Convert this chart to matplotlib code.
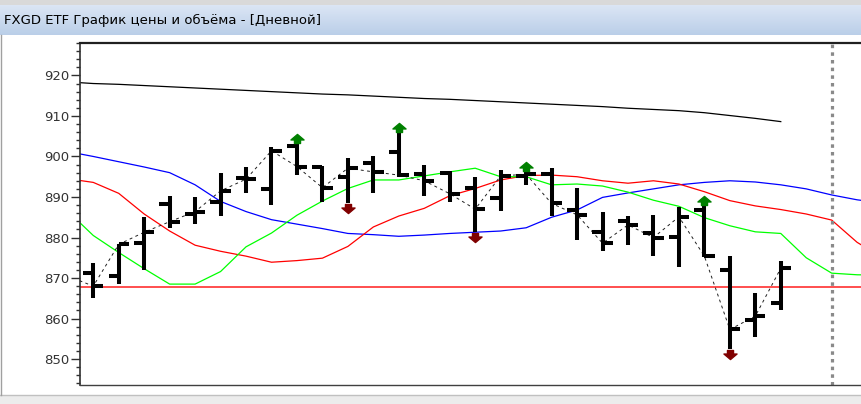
import numpy as np
import matplotlib
matplotlib.use('Agg')
import matplotlib.pyplot as plt
from matplotlib.path import Path
from matplotlib.ticker import MultipleLocator

# OHLC bars (daily)
opens = [871.2, 870.6, 878.6, 888.3, 885.7, 888.8, 894.6, 891.9, 902.5, 897.5,
         895.0, 898.3, 901.2, 895.7, 896.0, 892.1, 889.7, 895.3, 895.7, 886.8,
         881.4, 884.1, 881.2, 880.2, 886.8, 872.1, 859.6, 863.8]
highs = [873.7, 878.4, 885.0, 890.2, 890.1, 895.8, 897.3, 902.3, 903.0, 897.6,
         899.6, 900.0, 905.9, 897.8, 896.4, 895.0, 896.7, 896.2, 897.1, 892.1,
         886.4, 885.2, 885.6, 887.5, 887.8, 875.4, 866.2, 874.3]
lows = [865.1, 868.6, 872.0, 882.3, 883.3, 885.3, 891.1, 888.0, 895.4, 888.8,
        888.4, 890.9, 895.0, 890.2, 888.8, 881.4, 886.5, 893.0, 885.2, 879.4,
        876.7, 878.1, 875.4, 872.6, 875.1, 852.6, 855.5, 862.1]
closes = [868.0, 878.3, 881.3, 883.9, 886.4, 891.5, 894.4, 901.4, 897.5, 892.3,
          897.1, 896.2, 895.4, 894.0, 890.8, 887.0, 895.2, 895.6, 888.4, 885.6,
          878.6, 883.1, 880.0, 885.1, 875.4, 857.3, 860.6, 872.4]
prev_close = 870.5

# indicator lines, one value per day starting the day before the first bar
black_line = [918.4, 918.0, 917.8, 917.5, 917.2, 916.9, 916.6, 916.3, 916.0, 915.7,
              915.4, 915.2, 914.9, 914.6, 914.3, 914.1, 913.8, 913.5, 913.2, 912.9,
              912.6, 912.3, 911.9, 911.6, 911.3, 910.8, 910.1, 909.4, 908.6]
blue_line = [901.2, 900.0, 898.7, 897.4, 896.0, 893.0, 888.9, 886.4, 884.4, 883.3,
             882.2, 881.0, 880.7, 880.3, 880.6, 881.0, 881.3, 881.6, 882.4, 885.0,
             886.8, 889.9, 891.0, 892.0, 893.0, 893.6, 894.0, 893.7, 893.0, 892.0,
             890.5, 889.3, 888.5]
red_line = [894.5, 893.6, 890.9, 885.8, 881.6, 878.1, 876.6, 875.4, 873.9, 874.3,
            874.9, 877.8, 882.6, 885.3, 887.2, 890.3, 892.1, 894.2, 895.3, 895.4,
            895.0, 894.0, 893.4, 894.0, 893.2, 891.3, 889.1, 887.8, 886.9, 885.8,
            884.3, 878.8, 875.0]
green_line = [886.5, 880.5, 876.3, 872.3, 868.5, 868.5, 871.6, 877.7, 881.1, 885.5,
              889.0, 892.1, 894.2, 894.2, 895.2, 896.2, 897.1, 895.0, 895.0, 893.0,
              893.2, 892.7, 891.2, 889.2, 887.7, 884.9, 882.9, 881.4, 881.0, 875.0,
              871.2, 870.8, 870.7]
support_level = 867.9
today_index = 29

# signals (bar indices)
up_signals = [8, 12, 17, 24]
down_signals = [10, 15, 25]

title = 'FXGD ETF График цены и объёма - [Дневной]'

W, H = 862, 404
fig = plt.figure(figsize=(W / 100, H / 100), dpi=100)
fig.patch.set_facecolor('white')

# window title bar
bar = fig.add_axes([0, 1 - 35 / H, 1, 30 / H])
grad = np.linspace(0, 1, 50).reshape(-1, 1)
top_c = np.array([0.86, 0.90, 0.96])
bot_c = np.array([0.73, 0.81, 0.91])
img = top_c + (bot_c - top_c) * grad[..., None]
bar.imshow(np.repeat(img, 2, axis=1), aspect='auto', extent=[0, 1, 0, 1])
bar.set_xlim(0, 1)
bar.set_ylim(0, 1)
bar.axis('off')
bar.text(4 / W, 0.5, title, fontsize=9.5, family='DejaVu Sans', color='black',
         va='center', ha='left')

# thin frame bits around the window
fig.patches.append(plt.Rectangle((0, 1 - 5 / H), 1, 5 / H, transform=fig.transFigure,
                                 facecolor='#d9d9d9', edgecolor='none'))
fig.patches.append(plt.Rectangle((0, 0), 1, 9 / H, transform=fig.transFigure,
                                 facecolor='#ececec', edgecolor='none'))
fig.lines.append(plt.Line2D([0, 1], [9 / H, 9 / H], transform=fig.transFigure,
                            color='#c0c0c0', lw=1))
fig.lines.append(plt.Line2D([1 / W, 1 / W], [9 / H, 1 - 35 / H], transform=fig.transFigure,
                            color='#a0a0a0', lw=1))

ax = fig.add_axes([79.5 / W, 1 - 385 / H, 1 - 79.5 / W, (385 - 43) / H])
ax.set_xlim(-0.54, 30.19)
ax.set_ylim(843.6, 928.0)

x_bars = np.arange(len(closes))
x_ind = np.arange(-1, len(blue_line) - 1)

ax.plot(np.arange(-1, len(black_line) - 1), black_line, color='black', lw=0.9, zorder=2)
ax.plot(x_ind, blue_line, color='#0000ff', lw=0.9, zorder=2)
ax.plot(x_ind, red_line, color='#ff0000', lw=0.9, zorder=2)
ax.plot(x_ind, green_line, color='#00ff00', lw=0.9, zorder=2)
ax.axhline(support_level, color='#ff3030', lw=1.2, zorder=2)
ax.axvline(today_index, color='#8a8a8a', lw=2.3, ls=(0, (1.1, 1.3)), zorder=2)

# dashed close line
ax.plot(np.r_[-1, x_bars], np.r_[prev_close, closes], color='#202020', lw=0.7,
        ls=(0, (3, 3.5)), zorder=3)

# OHLC bars
tick = 0.4
lw_bar = 2.9
ax.vlines(x_bars, lows, highs, color='black', lw=lw_bar, zorder=4)
ax.hlines(opens, x_bars - tick, x_bars, color='black', lw=lw_bar, zorder=4)
ax.hlines(closes, x_bars, x_bars + tick, color='black', lw=lw_bar, zorder=4)

# signal arrows
up_verts = [(-0.3, 0.1), (0.3, 0.1), (0.3, 0.45), (0.65, 0.45), (0, 1.0),
            (-0.65, 0.45), (-0.3, 0.45), (-0.3, 0.1)]
up_arrow = Path(up_verts, closed=True)
down_arrow = Path([(vx, -vy) for vx, vy in up_verts], closed=True)
ax.plot(up_signals, [highs[i] for i in up_signals], ls='none', marker=up_arrow,
        ms=14.5, color='#008000', mec='#008000', zorder=5)
ax.plot(down_signals, [lows[i] for i in down_signals], ls='none', marker=down_arrow,
        ms=14.5, color='#800000', mec='#800000', zorder=5)

# axes styling
ax.spines['right'].set_visible(False)
ax.spines['left'].set_color('#303030')
ax.spines['left'].set_linewidth(1.2)
ax.spines['top'].set_color('#202020')
ax.spines['top'].set_linewidth(1.6)
ax.spines['bottom'].set_color('#404040')
ax.spines['bottom'].set_linewidth(1.0)
ax.set_xticks([])
ax.yaxis.set_major_locator(MultipleLocator(10))
ax.yaxis.set_minor_locator(MultipleLocator(2))
ax.tick_params(axis='y', which='major', length=6.5, width=1, color='#303030',
               labelsize=9.5, labelcolor='#333333', pad=1)
ax.tick_params(axis='y', which='minor', length=2.8, width=1, color='#303030')
for lab in ax.get_yticklabels():
    lab.set_family('DejaVu Sans')

fig.savefig('out.png', dpi=100)
